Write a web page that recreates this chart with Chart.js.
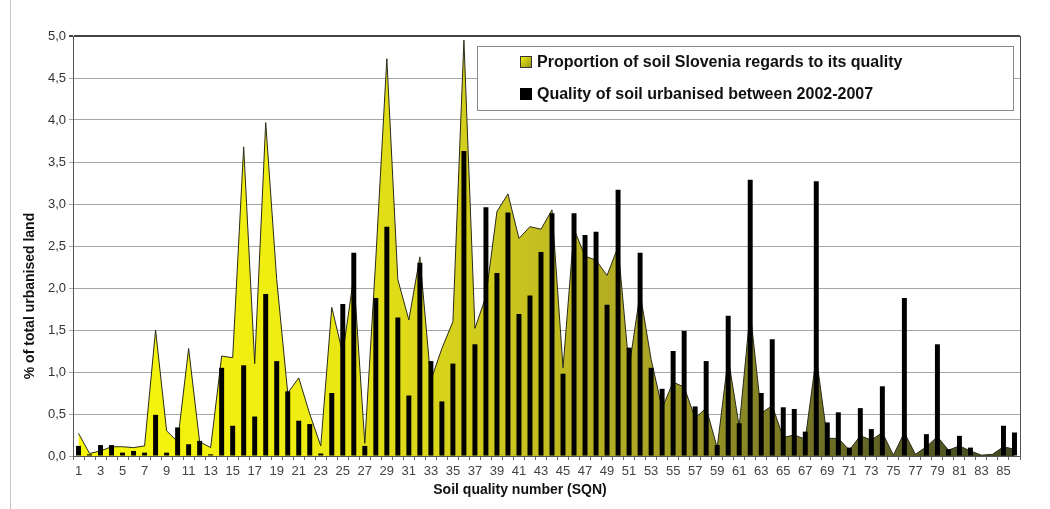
<!DOCTYPE html>
<html>
<head>
<meta charset="utf-8">
<script src="https://cdn.jsdelivr.net/npm/chart.js@4/dist/chart.umd.min.js"></script>
<style>
  html, body { margin: 0; padding: 0; background: #fff; }
  canvas { display: block; }
</style>
</head>
<body>
<canvas id="c" width="1050" height="509"></canvas>
<script>
// soil quality numbers (SQN) on the x axis
const sqn = ['1','2','3','4','5','6','7','8','9','10','11','12','13','14','15','16','17','18','19','20',
  '21','22','23','24','25','26','27','28','29','30','31','32','33','34','35','36','37','38','39','40',
  '41','42','43','44','45','46','47','48','49','50','51','52','53','54','55','56','57','58','59','60',
  '61','62','63','64','65','66','67','68','69','70','71','72','73','74','75','76','77','78','79','80',
  '81','82','83','84','85','86'];

// area: proportion of soil in Slovenia by quality (%)
const soilShare = [0.27, 0.03, 0.06, 0.11, 0.11, 0.10, 0.12, 1.50, 0.30, 0.17,
  1.28, 0.17, 0.10, 1.19, 1.17, 3.68, 1.10, 3.97, 2.10, 0.75,
  0.93, 0.50, 0.12, 1.77, 1.22, 2.14, 0.15, 2.35, 4.73, 2.10,
  1.62, 2.37, 0.90, 1.28, 1.60, 4.95, 1.52, 1.90, 2.91, 3.12,
  2.59, 2.73, 2.70, 2.93, 1.05, 2.70, 2.38, 2.33, 2.15, 2.49,
  1.05, 1.94, 1.15, 0.57, 0.88, 0.82, 0.45, 0.57, 0.10, 1.17,
  0.35, 1.72, 0.51, 0.60, 0.22, 0.25, 0.20, 1.18, 0.21, 0.21,
  0.07, 0.24, 0.19, 0.28, 0.01, 0.28, 0.02, 0.11, 0.23, 0.07,
  0.12, 0.06, 0.01, 0.02, 0.11, 0.08];

// bars: quality of soil urbanised 2002-2007 (%)
const urbanised = [0.12, 0.02, 0.13, 0.13, 0.04, 0.06, 0.04, 0.49, 0.04, 0.34,
  0.14, 0.18, 0.02, 1.05, 0.36, 1.08, 0.47, 1.93, 1.13, 0.77,
  0.42, 0.38, 0.03, 0.75, 1.81, 2.42, 0.12, 1.88, 2.73, 1.65,
  0.72, 2.30, 1.13, 0.65, 1.10, 3.63, 1.33, 2.96, 2.18, 2.90,
  1.69, 1.91, 2.43, 2.89, 0.98, 2.89, 2.63, 2.67, 1.80, 3.17,
  1.29, 2.42, 1.05, 0.80, 1.25, 1.49, 0.59, 1.13, 0.13, 1.67,
  0.39, 3.29, 0.75, 1.39, 0.58, 0.56, 0.29, 3.27, 0.40, 0.52,
  0.10, 0.57, 0.32, 0.83, 0, 1.88, 0, 0.26, 1.33, 0.08,
  0.24, 0.10, 0, 0, 0.36, 0.28];

const seriesNames = ['Proportion of soil Slovenia regards to its quality',
  'Quality of soil urbanised between 2002-2007'];

const FONT = '"Liberation Sans", Arial, sans-serif';

// yellow -> olive fade across the plot, like the original area fill
function areaGradient(ctx, x0, x1) {
  const g = ctx.createLinearGradient(x0, 0, x1, 0);
  g.addColorStop(0, '#f7f70a');
  g.addColorStop(0.25, '#eeec12');
  g.addColorStop(0.45, '#cdc81e');
  g.addColorStop(0.6, '#aca624');
  g.addColorStop(0.78, '#727226');
  g.addColorStop(1, '#3e4622');
  return g;
}

// frame, titles, legend box
const decor = {
  id: 'decor',
  beforeDraw(chart) {
    const { ctx } = chart;
    ctx.save();
    ctx.strokeStyle = '#c4c4c4';
    ctx.lineWidth = 1;
    ctx.beginPath();
    ctx.moveTo(10.5, 0);
    ctx.lineTo(10.5, 509);
    ctx.stroke();
    ctx.restore();
  },
  afterDraw(chart) {
    const { ctx, chartArea: a } = chart;
    ctx.save();
    // right border of plot
    ctx.strokeStyle = '#555';
    ctx.lineWidth = 1;
    ctx.beginPath();
    ctx.moveTo(a.right + 0.5, a.top);
    ctx.lineTo(a.right + 0.5, a.bottom);
    ctx.stroke();

    // axis titles
    ctx.fillStyle = '#111';
    ctx.font = 'bold 14px ' + FONT;
    ctx.textAlign = 'center';
    ctx.textBaseline = 'middle';
    ctx.fillText('Soil quality number (SQN)', 520, 490);
    ctx.translate(30, 296);
    ctx.rotate(-Math.PI / 2);
    ctx.fillText('% of total urbanised land', 0, 0);
    ctx.restore();

    // legend
    ctx.save();
    ctx.fillStyle = '#fff';
    ctx.fillRect(477, 46, 536, 64);
    ctx.strokeStyle = '#8a8a8a';
    ctx.lineWidth = 1;
    ctx.strokeRect(477.5, 46.5, 536, 64);

    const g = ctx.createLinearGradient(520, 56, 532, 68);
    g.addColorStop(0, '#f7f70a');
    g.addColorStop(1, '#8c8a20');
    ctx.fillStyle = g;
    ctx.fillRect(520, 56, 12, 12);
    ctx.strokeStyle = '#333';
    ctx.strokeRect(520.5, 56.5, 11, 11);
    ctx.fillStyle = '#000';
    ctx.fillRect(520, 88, 12, 12);

    ctx.fillStyle = '#111';
    ctx.font = 'bold 16px ' + FONT;
    ctx.textAlign = 'left';
    ctx.textBaseline = 'middle';
    ctx.fillText(seriesNames[0], 537, 63);
    ctx.fillText(seriesNames[1], 537, 95);
    ctx.restore();
  },
};

new Chart(document.getElementById('c').getContext('2d'), {
  type: 'bar',
  data: {
    labels: sqn,
    datasets: [
      {
        type: 'line',
        label: seriesNames[0],
        data: soilShare,
        order: 2,
        fill: 'origin',
        tension: 0,
        pointRadius: 0,
        borderWidth: 1,
        borderColor: '#2a2a1a',
        backgroundColor(c) {
          const a = c.chart.chartArea;
          if (!a) return '#eeec12';
          return areaGradient(c.chart.ctx, a.left, a.right);
        },
      },
      {
        type: 'bar',
        label: seriesNames[1],
        data: urbanised,
        order: 1,
        backgroundColor: '#000',
        categoryPercentage: 1,
        barPercentage: 0.45,
      },
    ],
  },
  options: {
    animation: false,
    responsive: false,
    maintainAspectRatio: false,
    layout: { padding: { top: 36, right: 30, left: 0, bottom: 0 } },
    plugins: { legend: { display: false }, tooltip: { enabled: false } },
    scales: {
      x: {
        offset: true,
        grid: { display: true, drawOnChartArea: false, drawTicks: true, tickLength: 4, color: '#666', offset: true },
        border: { color: '#555' },
        ticks: {
          autoSkip: false,
          maxRotation: 0,
          minRotation: 0,
          padding: 4,
          color: '#444',
          font: { family: FONT, size: 13 },
          callback: (v, i) => (i % 2 === 0 ? sqn[i] : ''),
        },
        afterFit(s) { s.height = 53; },
      },
      y: {
        min: 0,
        max: 5,
        ticks: {
          stepSize: 0.5,
          padding: 3,
          color: '#333',
          font: { family: FONT, size: 13 },
          callback: (v) => Number(v).toFixed(1).replace('.', ','),
        },
        grid: {
          tickLength: 4,
          color: (c) => (c.tick && c.tick.value === 5 ? '#444' : '#a6a6a6'),
          lineWidth: (c) => (c.tick && c.tick.value === 5 ? 2 : 1),
        },
        border: { color: '#555' },
        afterFit(s) { s.width = 73; },
      },
    },
  },
  plugins: [decor],
});
</script>
</body>
</html>
